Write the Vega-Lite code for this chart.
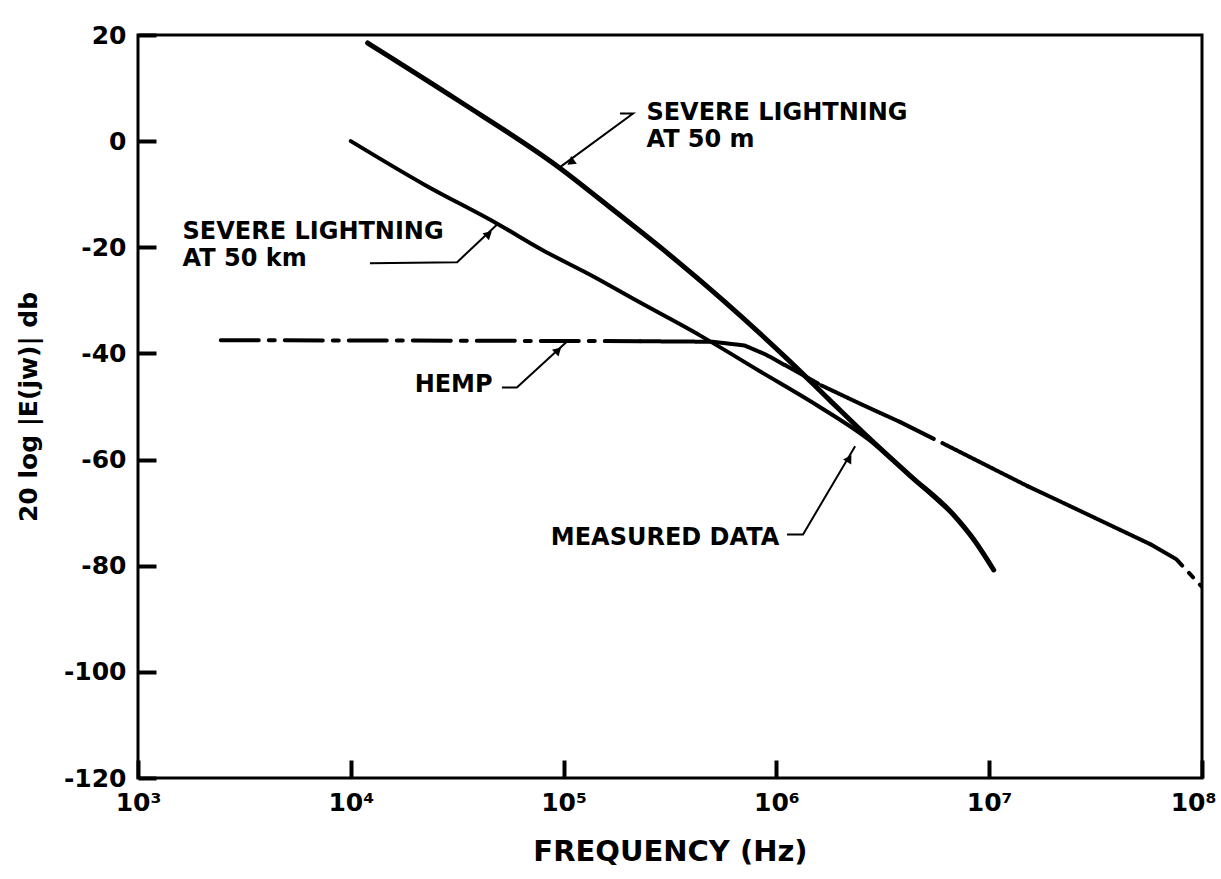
{
  "$schema": "https://vega.github.io/schema/vega-lite/v6.json",
  "width": 1064,
  "height": 743,
  "autosize": {"type": "none"},
  "padding": {"left": 138, "top": 35, "right": 19, "bottom": 101},
  "background": "white",
  "config": {
    "view": {"stroke": "black", "strokeWidth": 3},
    "font": "DejaVu Sans",
    "axis": {
      "domain": false,
      "grid": false,
      "tickColor": "black",
      "tickWidth": 4,
      "tickSize": -18,
      "tickOpacity": 1,
      "labelColor": "black",
      "labelFont": "DejaVu Sans",
      "labelFontSize": 25,
      "labelFontWeight": "bold",
      "titleColor": "black",
      "titleFont": "DejaVu Sans",
      "titleFontWeight": "bold",
      "labelFlush": false,
      "labelOverlap": false,
      "zindex": 1
    }
  },
  "datasets": {
    "curves": [
      {"series": "50 m", "seg": "m", "style": "solid", "f": 12000, "db": 18.5},
      {"series": "50 m", "seg": "m", "style": "solid", "f": 31600, "db": 7.8},
      {"series": "50 m", "seg": "m", "style": "solid", "f": 95500, "db": -5},
      {"series": "50 m", "seg": "m", "style": "solid", "f": 178000, "db": -13.5},
      {"series": "50 m", "seg": "m", "style": "solid", "f": 295000, "db": -20.5},
      {"series": "50 m", "seg": "m", "style": "solid", "f": 562000, "db": -30},
      {"series": "50 m", "seg": "m", "style": "solid", "f": 1150000, "db": -41.4},
      {"series": "50 m", "seg": "m", "style": "solid", "f": 1780000, "db": -48.8},
      {"series": "50 m", "seg": "m", "style": "solid", "f": 2750000, "db": -56.1},
      {"series": "50 m", "seg": "m", "style": "solid", "f": 4270000, "db": -63.1},
      {"series": "50 m", "seg": "m", "style": "solid", "f": 6760000, "db": -70.3},
      {"series": "50 m", "seg": "m", "style": "solid", "f": 8510000, "db": -75.2},
      {"series": "50 m", "seg": "m", "style": "solid", "f": 10500000, "db": -80.8},
      {"series": "50 km", "seg": "km", "style": "solid", "f": 10000, "db": 0},
      {"series": "50 km", "seg": "km", "style": "solid", "f": 22400, "db": -8.3},
      {"series": "50 km", "seg": "km", "style": "solid", "f": 49000, "db": -15.6},
      {"series": "50 km", "seg": "km", "style": "solid", "f": 79400, "db": -20.5},
      {"series": "50 km", "seg": "km", "style": "solid", "f": 138000, "db": -25.5},
      {"series": "50 km", "seg": "km", "style": "solid", "f": 219000, "db": -30},
      {"series": "50 km", "seg": "km", "style": "solid", "f": 437000, "db": -36.6},
      {"series": "50 km", "seg": "km", "style": "solid", "f": 832000, "db": -43.3},
      {"series": "50 km", "seg": "km", "style": "solid", "f": 1585000, "db": -50},
      {"series": "50 km", "seg": "km", "style": "solid", "f": 2750000, "db": -56.4},
      {"series": "50 km", "seg": "km", "style": "solid", "f": 4270000, "db": -63.1},
      {"series": "50 km", "seg": "km", "style": "solid", "f": 6760000, "db": -70.3},
      {"series": "HEMP", "seg": "A", "style": "dashdot", "f": 2450, "db": -37.5},
      {"series": "HEMP", "seg": "A", "style": "dashdot", "f": 31600, "db": -37.6},
      {"series": "HEMP", "seg": "A", "style": "dashdot", "f": 229000, "db": -37.7},
      {"series": "HEMP", "seg": "B", "style": "solid", "f": 229000, "db": -37.7},
      {"series": "HEMP", "seg": "B", "style": "solid", "f": 501000, "db": -37.8},
      {"series": "HEMP", "seg": "B", "style": "solid", "f": 708000, "db": -38.5},
      {"series": "HEMP", "seg": "B", "style": "solid", "f": 891000, "db": -40.2},
      {"series": "HEMP", "seg": "B", "style": "solid", "f": 1096000, "db": -42.2},
      {"series": "HEMP", "seg": "C", "style": "dashdot", "f": 1096000, "db": -42.2},
      {"series": "HEMP", "seg": "C", "style": "dashdot", "f": 1622000, "db": -46},
      {"series": "HEMP", "seg": "D", "style": "solid", "f": 1622000, "db": -46},
      {"series": "HEMP", "seg": "D", "style": "solid", "f": 2512000, "db": -49.6},
      {"series": "HEMP", "seg": "D", "style": "solid", "f": 3802000, "db": -52.9},
      {"series": "HEMP", "seg": "E", "style": "dashdot", "f": 3802000, "db": -52.9},
      {"series": "HEMP", "seg": "E", "style": "dashdot", "f": 6026000, "db": -56.9},
      {"series": "HEMP", "seg": "F", "style": "solid", "f": 6026000, "db": -56.9},
      {"series": "HEMP", "seg": "F", "style": "solid", "f": 15140000, "db": -65},
      {"series": "HEMP", "seg": "G", "style": "dashdot", "f": 15140000, "db": -65},
      {"series": "HEMP", "seg": "G", "style": "dashdot", "f": 22390000, "db": -68.2},
      {"series": "HEMP", "seg": "H", "style": "solid", "f": 22390000, "db": -68.2},
      {"series": "HEMP", "seg": "H", "style": "solid", "f": 57540000, "db": -76},
      {"series": "HEMP", "seg": "I", "style": "dashdot", "f": 57540000, "db": -76},
      {"series": "HEMP", "seg": "I", "style": "dashdot", "f": 75860000, "db": -78.8},
      {"series": "HEMP", "seg": "I", "style": "dashdot", "f": 100000000, "db": -84}
    ],
    "leaders": [
      {"id": "L1", "k": 0, "f": 184000, "db": 5.2},
      {"id": "L1", "k": 1, "f": 212000, "db": 5.2},
      {"id": "L1", "k": 2, "f": 95500, "db": -5},
      {"id": "L2", "k": 0, "f": 12300, "db": -23},
      {"id": "L2", "k": 1, "f": 31600, "db": -22.8},
      {"id": "L2", "k": 2, "f": 49000, "db": -15.6},
      {"id": "L3", "k": 0, "f": 51300, "db": -46.4},
      {"id": "L3", "k": 1, "f": 60300, "db": -46.4},
      {"id": "L3", "k": 2, "f": 104700, "db": -37.6},
      {"id": "L4", "k": 0, "f": 1122000, "db": -74.1},
      {"id": "L4", "k": 1, "f": 1334000, "db": -74.1},
      {"id": "L4", "k": 2, "f": 2344000, "db": -57.5}
    ],
    "heads": [
      {"id": "A1", "f": 108000, "db": -4},
      {"id": "A2", "f": 44500, "db": -17.5},
      {"id": "A3", "f": 94300, "db": -39.4},
      {"id": "A4", "f": 2200000, "db": -59.8}
    ],
    "labels": [
      {"text": "SEVERE LIGHTNING", "f": 245000, "db": 5.3},
      {"text": "AT 50  m", "f": 245000, "db": 0.2},
      {"text": "SEVERE LIGHTNING", "f": 1620, "db": -17.1},
      {"text": "AT 50 km", "f": 1620, "db": -22.3},
      {"text": "HEMP", "f": 19950, "db": -46},
      {"text": "MEASURED DATA", "f": 87100, "db": -74.7}
    ]
  },
  "encoding": {
    "x": {
      "field": "f",
      "type": "quantitative",
      "scale": {"type": "log", "domain": [1000, 100000000], "nice": false},
      "axis": {
        "values": [1000, 10000, 100000, 1000000, 10000000, 100000000],
        "labelExpr": "'10' + ['⁰','¹','²','³','⁴','⁵','⁶','⁷','⁸'][round(log(datum.value)/LN10)]",
        "labelPadding": 30,
        "labelOffset": {"condition": {"test": "datum.value >= 100000000", "value": -9}, "value": 0},
        "title": "FREQUENCY (Hz)",
        "titleFontSize": 29,
        "titlePadding": 22
      }
    },
    "y": {
      "field": "db",
      "type": "quantitative",
      "scale": {"domain": [-120, 20], "nice": false, "zero": false},
      "axis": {
        "values": [-120, -100, -80, -60, -40, -20, 0, 20],
        "labelExpr": "datum.value + ''",
        "labelPadding": 30,
        "title": "20 log |E(jw)| db",
        "titleFontSize": 25,
        "titlePadding": 22
      }
    }
  },
  "layer": [
    {
      "data": {"name": "curves"},
      "transform": [{"filter": "datum.series === 'HEMP'"}],
      "mark": {"type": "line", "color": "black", "strokeWidth": 4, "strokeCap": "round", "clip": true},
      "encoding": {
        "detail": {"field": "seg"},
        "strokeDash": {
          "field": "style",
          "scale": {"domain": ["solid", "dashdot"], "range": [[1, 0], [38, 10, 6, 10]]},
          "legend": null
        }
      }
    },
    {
      "data": {"name": "curves"},
      "transform": [{"filter": "datum.series === '50 km'"}],
      "mark": {"type": "line", "color": "black", "strokeWidth": 4, "strokeCap": "round", "interpolate": "monotone"},
      "encoding": {"detail": {"field": "seg"}}
    },
    {
      "data": {"name": "curves"},
      "transform": [{"filter": "datum.series === '50 m'"}],
      "mark": {"type": "line", "color": "black", "strokeWidth": 5, "strokeCap": "round", "interpolate": "monotone"},
      "encoding": {"detail": {"field": "seg"}}
    },
    {
      "data": {"name": "leaders"},
      "mark": {"type": "line", "color": "black", "strokeWidth": 2},
      "encoding": {"detail": {"field": "id"}, "order": {"field": "k"}}
    },
    {
      "data": {"name": "heads"},
      "transform": [{"filter": "datum.id === 'A1'"}],
      "mark": {"type": "point", "shape": "triangle-up", "filled": true, "color": "black", "opacity": 1, "size": 90, "angle": 233}
    },
    {
      "data": {"name": "heads"},
      "transform": [{"filter": "datum.id === 'A2'"}],
      "mark": {"type": "point", "shape": "triangle-up", "filled": true, "color": "black", "opacity": 1, "size": 90, "angle": 48}
    },
    {
      "data": {"name": "heads"},
      "transform": [{"filter": "datum.id === 'A3'"}],
      "mark": {"type": "point", "shape": "triangle-up", "filled": true, "color": "black", "opacity": 1, "size": 90, "angle": 46}
    },
    {
      "data": {"name": "heads"},
      "transform": [{"filter": "datum.id === 'A4'"}],
      "mark": {"type": "point", "shape": "triangle-up", "filled": true, "color": "black", "opacity": 1, "size": 90, "angle": 31}
    },
    {
      "data": {"name": "labels"},
      "mark": {"type": "text", "align": "left", "baseline": "middle", "fontSize": 24, "fontWeight": "bold", "font": "DejaVu Sans", "color": "black"},
      "encoding": {"text": {"field": "text"}}
    }
  ]
}
